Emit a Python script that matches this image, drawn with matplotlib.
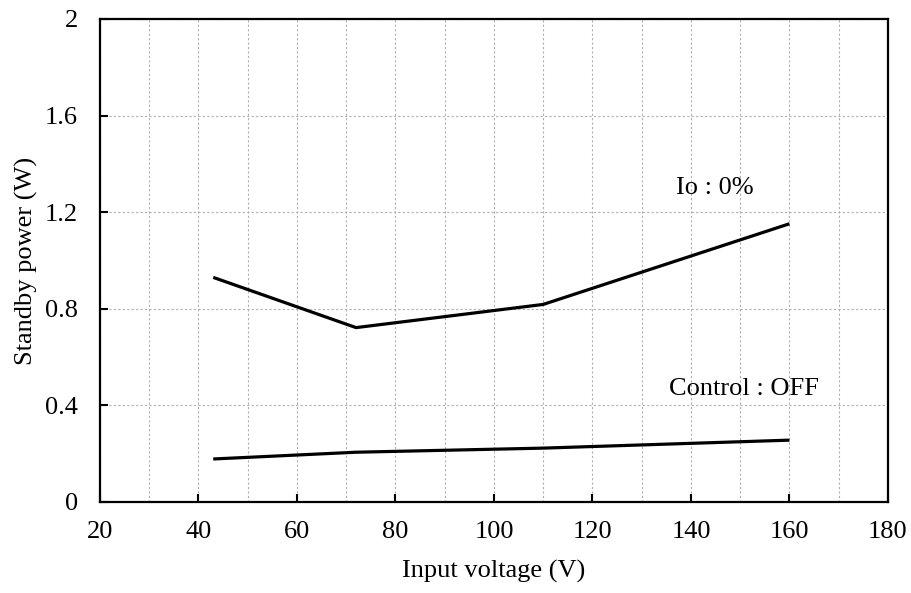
import matplotlib.pyplot as plt
from matplotlib.patches import Rectangle
from matplotlib.ticker import MultipleLocator, FuncFormatter

plt.rcParams['font.family'] = ['Liberation Serif', 'DejaVu Serif']

# -------------------------
# data
voltage = [43, 72, 110, 160]
power_io0 = [0.930, 0.722, 0.818, 1.152]
power_ctrl_off = [0.178, 0.206, 0.223, 0.256]

x_ticks_major = 20
y_ticks_major = 0.4

# -------------------------
fig = plt.figure(figsize=(9.12, 5.93), dpi=100)
ax = fig.add_axes([0.1096, 0.1535, 0.864, 0.8145])

ax.plot(voltage, power_io0, color='black', lw=2.3, solid_capstyle='butt', zorder=3)
ax.plot(voltage, power_ctrl_off, color='black', lw=2.3, solid_capstyle='butt', zorder=3)

ax.set_xlim(20, 180)
ax.set_ylim(0, 2)
ax.xaxis.set_major_locator(MultipleLocator(x_ticks_major))
ax.xaxis.set_minor_locator(MultipleLocator(10))
ax.yaxis.set_major_locator(MultipleLocator(y_ticks_major))
ax.yaxis.set_major_formatter(FuncFormatter(lambda v, p: '%g' % round(v, 2)))

ax.grid(True, which='both', axis='x', color='#b0b0b0', lw=0.8, ls=(0, (2, 2)), zorder=0)
ax.grid(True, which='major', axis='y', color='#b0b0b0', lw=0.8, ls=(0, (2, 2)), zorder=0)

ax.tick_params(which='major', direction='in', length=6, width=1.5, labelsize=19)
ax.tick_params(axis='x', pad=14)
ax.tick_params(axis='y', pad=16)
ax.tick_params(which='minor', length=0)
for sp in ax.spines.values():
    sp.set_linewidth(1.6)

ax.set_xlabel('Input voltage (V)', fontsize=19, labelpad=12)
ax.set_ylabel('Standby power (W)', fontsize=19, labelpad=5)

# labels on white patches covering the grid
ax.add_patch(Rectangle((130.7, 1.21), 28.5, 0.19, fc='white', ec='none', zorder=1))
ax.text(144.9, 1.30, 'Io : 0%', fontsize=19, ha='center', va='center', zorder=2)
ax.add_patch(Rectangle((131.3, 0.36), 38.7, 0.216, fc='white', ec='none', zorder=1))
ax.text(150.8, 0.468, 'Control : OFF', fontsize=19, ha='center', va='center', zorder=2)

fig.savefig('out.png', dpi=100)
plt.close(fig)
